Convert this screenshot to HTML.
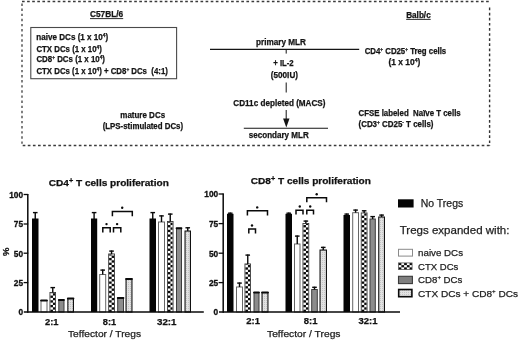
<!DOCTYPE html>
<html><head><meta charset="utf-8"><title>Figure</title>
<style>
html,body{margin:0;padding:0;background:#fff;}
body{width:520px;height:342px;overflow:hidden;}
text{white-space:pre;}
svg{display:block;filter:grayscale(1) blur(0.3px);font-family:"Liberation Sans", sans-serif;}
</style></head>
<body>
<svg width="520" height="342" viewBox="0 0 520 342">
<defs>
<pattern id="stp" patternUnits="userSpaceOnUse" width="2" height="2">
<rect width="2" height="2" fill="#e2e2e2"/>
<rect width="1" height="1" fill="#c4c4c4"/>
</pattern>
</defs>
<rect width="520" height="342" fill="#fff"/>
<g stroke="#333" stroke-width="1.1" fill="none">
<line x1="22" y1="1.5" x2="490.2" y2="1.5" stroke="#3a3a3a" stroke-width="1.3" stroke-dasharray="2.65 2.45"/>
<line x1="22.7" y1="145.5" x2="490.2" y2="145.5" stroke="#3a3a3a" stroke-width="1.3" stroke-dasharray="2.65 2.45"/>
<line x1="22" y1="3.5" x2="22" y2="146" stroke="#4a4a4a" stroke-width="1.4" stroke-dasharray="2.4 2.707"/>
<line x1="489.6" y1="7.6" x2="489.6" y2="146" stroke="#333" stroke-width="1.4" stroke-dasharray="2.7 2.408"/>
</g>
<rect x="30.8" y="27.5" width="145.8" height="51.2" fill="none" stroke="#4a4a4a" stroke-width="1.1"/>
<text x="90" y="16.9" font-size="8.4" font-weight="bold" text-anchor="start" fill="#141414" textLength="33.2" lengthAdjust="spacingAndGlyphs" stroke="#141414" stroke-width="0.25">C57BL/6</text>
<line x1="90" y1="18.6" x2="123.2" y2="18.6" stroke="#141414" stroke-width="0.9"/>
<text x="406.2" y="17.7" font-size="8.4" font-weight="bold" text-anchor="start" fill="#141414" textLength="24.5" lengthAdjust="spacingAndGlyphs" stroke="#141414" stroke-width="0.25">Balb/c</text>
<line x1="406.2" y1="19.4" x2="430.7" y2="19.4" stroke="#141414" stroke-width="0.9"/>
<text x="36.3" y="39.7" font-size="8.4" font-weight="bold" text-anchor="start" fill="#141414" textLength="71.9" lengthAdjust="spacingAndGlyphs" stroke="#141414" stroke-width="0.25">naive DCs (1 x 10<tspan font-size="5" dy="-3">4</tspan><tspan dy="3">)</tspan></text>
<text x="36.4" y="51.5" font-size="8.4" font-weight="bold" text-anchor="start" fill="#141414" textLength="65.4" lengthAdjust="spacingAndGlyphs" stroke="#141414" stroke-width="0.25">CTX DCs (1 x 10<tspan font-size="5" dy="-3">4</tspan><tspan dy="3">)</tspan></text>
<text x="36.4" y="61.8" font-size="8.4" font-weight="bold" text-anchor="start" fill="#141414" textLength="68.6" lengthAdjust="spacingAndGlyphs" stroke="#141414" stroke-width="0.25">CD8<tspan font-size="5" dy="-3">+</tspan><tspan dy="3"> DCs (1 x 10</tspan><tspan font-size="5" dy="-3">4</tspan><tspan dy="3">)</tspan></text>
<text x="36.4" y="73.5" font-size="8.4" font-weight="bold" text-anchor="start" fill="#141414" textLength="131.5" lengthAdjust="spacingAndGlyphs" stroke="#141414" stroke-width="0.25">CTX DCs (1 x 10<tspan font-size="5" dy="-3">4</tspan><tspan dy="3">) + CD8</tspan><tspan font-size="5" dy="-3">+</tspan><tspan dy="3"> DCs  (4:1)</tspan></text>
<text x="256" y="44.5" font-size="8.4" font-weight="bold" text-anchor="start" fill="#141414" textLength="50" lengthAdjust="spacingAndGlyphs" stroke="#141414" stroke-width="0.25">primary MLR</text>
<line x1="210" y1="49.4" x2="359.2" y2="49.4" stroke="#141414" stroke-width="1.2"/>
<line x1="286.2" y1="49.4" x2="286.2" y2="53.6" stroke="#141414" stroke-width="1"/>
<text x="273.2" y="65.8" font-size="8.4" font-weight="bold" text-anchor="start" fill="#141414" textLength="20.5" lengthAdjust="spacingAndGlyphs" stroke="#141414" stroke-width="0.25">+ IL-2</text>
<text x="270.8" y="77.5" font-size="8.4" font-weight="bold" text-anchor="start" fill="#141414" textLength="27.2" lengthAdjust="spacingAndGlyphs" stroke="#141414" stroke-width="0.25">(500IU)</text>
<line x1="286.2" y1="82.5" x2="286.2" y2="92.5" stroke="#141414" stroke-width="1"/>
<text x="233.3" y="105.5" font-size="8.4" font-weight="bold" text-anchor="start" fill="#141414" textLength="92.2" lengthAdjust="spacingAndGlyphs" stroke="#141414" stroke-width="0.25">CD11c depleted (MACS)</text>
<line x1="286.2" y1="110" x2="286.2" y2="120" stroke="#141414" stroke-width="1"/>
<polygon points="283.1,118.6 289.5,118.6 286.3,127.6" fill="#141414"/>
<line x1="243.8" y1="128.2" x2="328" y2="128.2" stroke="#141414" stroke-width="1.1"/>
<text x="248.8" y="137.5" font-size="8.4" font-weight="bold" text-anchor="start" fill="#141414" textLength="60" lengthAdjust="spacingAndGlyphs" stroke="#141414" stroke-width="0.25">secondary MLR</text>
<text x="364.7" y="53.9" font-size="8.4" font-weight="bold" text-anchor="start" fill="#141414" textLength="81.5" lengthAdjust="spacingAndGlyphs" stroke="#141414" stroke-width="0.25">CD4<tspan font-size="5" dy="-3">+</tspan><tspan dy="3"> CD25</tspan><tspan font-size="5" dy="-3">+</tspan><tspan dy="3"> Treg cells</tspan></text>
<text x="388.5" y="64.5" font-size="8.4" font-weight="bold" text-anchor="start" fill="#141414" textLength="31.8" lengthAdjust="spacingAndGlyphs" stroke="#141414" stroke-width="0.25">(1 x 10<tspan font-size="5" dy="-3">4</tspan><tspan dy="3">)</tspan></text>
<text x="358.5" y="115.8" font-size="8.4" font-weight="bold" text-anchor="start" fill="#141414" textLength="102.2" lengthAdjust="spacingAndGlyphs" stroke="#141414" stroke-width="0.25">CFSE labeled  Na&#239;ve T cells</text>
<text x="358.5" y="126.9" font-size="8.4" font-weight="bold" text-anchor="start" fill="#141414" textLength="75" lengthAdjust="spacingAndGlyphs" stroke="#141414" stroke-width="0.25">(CD3<tspan font-size="5" dy="-3">+</tspan><tspan dy="3"> CD25</tspan><tspan font-size="5" dy="-3">-</tspan><tspan dy="3"> T cells)</tspan></text>
<text x="120.3" y="117.6" font-size="8.4" font-weight="bold" text-anchor="start" fill="#141414" textLength="44.8" lengthAdjust="spacingAndGlyphs" stroke="#141414" stroke-width="0.25">mature DCs</text>
<text x="102.7" y="128.6" font-size="8.4" font-weight="bold" text-anchor="start" fill="#141414" textLength="80.4" lengthAdjust="spacingAndGlyphs" stroke="#141414" stroke-width="0.25">(LPS-stimulated DCs)</text>
<rect x="32" y="218.5" width="6.5" height="93.5" fill="#050505"/>
<line x1="35.25" y1="212" x2="35.25" y2="219" stroke="#0a0a0a" stroke-width="1.4"/>
<line x1="32.95" y1="212.6" x2="37.55" y2="212.6" stroke="#0a0a0a" stroke-width="1.4"/>
<rect x="41" y="300.5" width="6" height="11.5" fill="#fff" stroke="#666" stroke-width="1"/>
<line x1="41.1" y1="300.4" x2="46.9" y2="300.4" stroke="#0a0a0a" stroke-width="2" stroke-linecap="round"/>
<rect x="49.5" y="292" width="6.5" height="20" fill="#fff"/>
<g fill="#0a0a0a"><rect x="50.4" y="309.65" width="2.55" height="2.35"/><rect x="52.95" y="307.3" width="2.15" height="2.35"/><rect x="50.4" y="304.95" width="2.55" height="2.35"/><rect x="52.95" y="302.6" width="2.15" height="2.35"/><rect x="50.4" y="300.25" width="2.55" height="2.35"/><rect x="52.95" y="297.9" width="2.15" height="2.35"/><rect x="50.4" y="295.55" width="2.55" height="2.35"/><rect x="52.95" y="293.2" width="2.15" height="2.35"/><rect x="50.4" y="292.9" width="2.55" height="0.3"/></g>
<rect x="49.95" y="292.45" width="5.6" height="19.55" fill="none" stroke="#3a3a3a" stroke-width="0.9"/>
<line x1="52.75" y1="287" x2="52.75" y2="292.5" stroke="#0a0a0a" stroke-width="1.4"/>
<line x1="50.45" y1="287.6" x2="55.05" y2="287.6" stroke="#0a0a0a" stroke-width="1.4"/>
<rect x="58.8" y="300" width="5.2" height="12" fill="#8c8c8c" stroke="#3c3c3c" stroke-width="1"/>
<line x1="58.9" y1="299.9" x2="63.9" y2="299.9" stroke="#0a0a0a" stroke-width="2" stroke-linecap="round"/>
<rect x="67.85" y="298.55" width="5.6" height="13.45" fill="url(#stp)" stroke="#111" stroke-width="1.1"/>
<line x1="67.9" y1="298.4" x2="73.4" y2="298.4" stroke="#0a0a0a" stroke-width="2" stroke-linecap="round"/>
<rect x="91" y="218.5" width="6.2" height="93.5" fill="#050505"/>
<line x1="94.1" y1="212" x2="94.1" y2="219" stroke="#0a0a0a" stroke-width="1.4"/>
<line x1="91.8" y1="212.6" x2="96.4" y2="212.6" stroke="#0a0a0a" stroke-width="1.4"/>
<rect x="99.7" y="274.5" width="6" height="37.5" fill="#fff" stroke="#666" stroke-width="1"/>
<line x1="102.7" y1="269.5" x2="102.7" y2="274.5" stroke="#0a0a0a" stroke-width="1.4"/>
<line x1="100.4" y1="270.1" x2="105" y2="270.1" stroke="#0a0a0a" stroke-width="1.4"/>
<rect x="108.2" y="253.5" width="6.7" height="58.5" fill="#fff"/>
<g fill="#0a0a0a"><rect x="109.1" y="309.65" width="2.55" height="2.35"/><rect x="111.65" y="307.3" width="2.35" height="2.35"/><rect x="109.1" y="304.95" width="2.55" height="2.35"/><rect x="111.65" y="302.6" width="2.35" height="2.35"/><rect x="109.1" y="300.25" width="2.55" height="2.35"/><rect x="111.65" y="297.9" width="2.35" height="2.35"/><rect x="109.1" y="295.55" width="2.55" height="2.35"/><rect x="111.65" y="293.2" width="2.35" height="2.35"/><rect x="109.1" y="290.85" width="2.55" height="2.35"/><rect x="111.65" y="288.5" width="2.35" height="2.35"/><rect x="109.1" y="286.15" width="2.55" height="2.35"/><rect x="111.65" y="283.8" width="2.35" height="2.35"/><rect x="109.1" y="281.45" width="2.55" height="2.35"/><rect x="111.65" y="279.1" width="2.35" height="2.35"/><rect x="109.1" y="276.75" width="2.55" height="2.35"/><rect x="111.65" y="274.4" width="2.35" height="2.35"/><rect x="109.1" y="272.05" width="2.55" height="2.35"/><rect x="111.65" y="269.7" width="2.35" height="2.35"/><rect x="109.1" y="267.35" width="2.55" height="2.35"/><rect x="111.65" y="265" width="2.35" height="2.35"/><rect x="109.1" y="262.65" width="2.55" height="2.35"/><rect x="111.65" y="260.3" width="2.35" height="2.35"/><rect x="109.1" y="257.95" width="2.55" height="2.35"/><rect x="111.65" y="255.6" width="2.35" height="2.35"/><rect x="109.1" y="254.4" width="2.55" height="1.2"/></g>
<rect x="108.65" y="253.95" width="5.8" height="58.05" fill="none" stroke="#3a3a3a" stroke-width="0.9"/>
<line x1="111.55" y1="250.5" x2="111.55" y2="254" stroke="#0a0a0a" stroke-width="1.4"/>
<line x1="109.25" y1="251.1" x2="113.85" y2="251.1" stroke="#0a0a0a" stroke-width="1.4"/>
<rect x="117.7" y="298" width="5.8" height="14" fill="#8c8c8c" stroke="#3c3c3c" stroke-width="1"/>
<line x1="117.8" y1="297.9" x2="123.4" y2="297.9" stroke="#0a0a0a" stroke-width="2" stroke-linecap="round"/>
<rect x="126.05" y="279.05" width="5.9" height="32.95" fill="url(#stp)" stroke="#111" stroke-width="1.1"/>
<line x1="126.1" y1="278.9" x2="131.9" y2="278.9" stroke="#0a0a0a" stroke-width="2" stroke-linecap="round"/>
<rect x="149.5" y="218.5" width="6.5" height="93.5" fill="#050505"/>
<line x1="152.75" y1="212" x2="152.75" y2="219" stroke="#0a0a0a" stroke-width="1.4"/>
<line x1="150.45" y1="212.6" x2="155.05" y2="212.6" stroke="#0a0a0a" stroke-width="1.4"/>
<rect x="158.5" y="222" width="6" height="90" fill="#fff" stroke="#666" stroke-width="1"/>
<line x1="161.5" y1="215.3" x2="161.5" y2="222" stroke="#0a0a0a" stroke-width="1.4"/>
<line x1="159.2" y1="215.9" x2="163.8" y2="215.9" stroke="#0a0a0a" stroke-width="1.4"/>
<rect x="167" y="221" width="6.5" height="91" fill="#fff"/>
<g fill="#0a0a0a"><rect x="167.9" y="309.65" width="2.55" height="2.35"/><rect x="170.45" y="307.3" width="2.15" height="2.35"/><rect x="167.9" y="304.95" width="2.55" height="2.35"/><rect x="170.45" y="302.6" width="2.15" height="2.35"/><rect x="167.9" y="300.25" width="2.55" height="2.35"/><rect x="170.45" y="297.9" width="2.15" height="2.35"/><rect x="167.9" y="295.55" width="2.55" height="2.35"/><rect x="170.45" y="293.2" width="2.15" height="2.35"/><rect x="167.9" y="290.85" width="2.55" height="2.35"/><rect x="170.45" y="288.5" width="2.15" height="2.35"/><rect x="167.9" y="286.15" width="2.55" height="2.35"/><rect x="170.45" y="283.8" width="2.15" height="2.35"/><rect x="167.9" y="281.45" width="2.55" height="2.35"/><rect x="170.45" y="279.1" width="2.15" height="2.35"/><rect x="167.9" y="276.75" width="2.55" height="2.35"/><rect x="170.45" y="274.4" width="2.15" height="2.35"/><rect x="167.9" y="272.05" width="2.55" height="2.35"/><rect x="170.45" y="269.7" width="2.15" height="2.35"/><rect x="167.9" y="267.35" width="2.55" height="2.35"/><rect x="170.45" y="265" width="2.15" height="2.35"/><rect x="167.9" y="262.65" width="2.55" height="2.35"/><rect x="170.45" y="260.3" width="2.15" height="2.35"/><rect x="167.9" y="257.95" width="2.55" height="2.35"/><rect x="170.45" y="255.6" width="2.15" height="2.35"/><rect x="167.9" y="253.25" width="2.55" height="2.35"/><rect x="170.45" y="250.9" width="2.15" height="2.35"/><rect x="167.9" y="248.55" width="2.55" height="2.35"/><rect x="170.45" y="246.2" width="2.15" height="2.35"/><rect x="167.9" y="243.85" width="2.55" height="2.35"/><rect x="170.45" y="241.5" width="2.15" height="2.35"/><rect x="167.9" y="239.15" width="2.55" height="2.35"/><rect x="170.45" y="236.8" width="2.15" height="2.35"/><rect x="167.9" y="234.45" width="2.55" height="2.35"/><rect x="170.45" y="232.1" width="2.15" height="2.35"/><rect x="167.9" y="229.75" width="2.55" height="2.35"/><rect x="170.45" y="227.4" width="2.15" height="2.35"/><rect x="167.9" y="225.05" width="2.55" height="2.35"/><rect x="170.45" y="222.7" width="2.15" height="2.35"/><rect x="167.9" y="221.9" width="2.55" height="0.8"/></g>
<rect x="167.45" y="221.45" width="5.6" height="90.55" fill="none" stroke="#3a3a3a" stroke-width="0.9"/>
<line x1="170.25" y1="213.5" x2="170.25" y2="221.5" stroke="#0a0a0a" stroke-width="1.4"/>
<line x1="167.95" y1="214.1" x2="172.55" y2="214.1" stroke="#0a0a0a" stroke-width="1.4"/>
<rect x="176.5" y="228.3" width="5" height="83.7" fill="#8c8c8c" stroke="#3c3c3c" stroke-width="1"/>
<line x1="176.6" y1="228.2" x2="181.4" y2="228.2" stroke="#0a0a0a" stroke-width="2" stroke-linecap="round"/>
<rect x="185.05" y="231.05" width="5.4" height="80.95" fill="url(#stp)" stroke="#111" stroke-width="1.1"/>
<line x1="187.75" y1="227.2" x2="187.75" y2="231" stroke="#0a0a0a" stroke-width="1.4"/>
<line x1="185.45" y1="227.8" x2="190.05" y2="227.8" stroke="#0a0a0a" stroke-width="1.4"/>
<rect x="227" y="213.8" width="6.5" height="98.2" fill="#050505"/>
<line x1="230.25" y1="212.6" x2="230.25" y2="214.3" stroke="#0a0a0a" stroke-width="1.4"/>
<line x1="227.95" y1="213.2" x2="232.55" y2="213.2" stroke="#0a0a0a" stroke-width="1.4"/>
<rect x="236.5" y="287" width="6" height="25" fill="#fff" stroke="#666" stroke-width="1"/>
<line x1="239.5" y1="282.5" x2="239.5" y2="287" stroke="#0a0a0a" stroke-width="1.4"/>
<line x1="237.2" y1="283.1" x2="241.8" y2="283.1" stroke="#0a0a0a" stroke-width="1.4"/>
<rect x="244.5" y="263.5" width="6.5" height="48.5" fill="#fff"/>
<g fill="#0a0a0a"><rect x="245.4" y="309.65" width="2.55" height="2.35"/><rect x="247.95" y="307.3" width="2.15" height="2.35"/><rect x="245.4" y="304.95" width="2.55" height="2.35"/><rect x="247.95" y="302.6" width="2.15" height="2.35"/><rect x="245.4" y="300.25" width="2.55" height="2.35"/><rect x="247.95" y="297.9" width="2.15" height="2.35"/><rect x="245.4" y="295.55" width="2.55" height="2.35"/><rect x="247.95" y="293.2" width="2.15" height="2.35"/><rect x="245.4" y="290.85" width="2.55" height="2.35"/><rect x="247.95" y="288.5" width="2.15" height="2.35"/><rect x="245.4" y="286.15" width="2.55" height="2.35"/><rect x="247.95" y="283.8" width="2.15" height="2.35"/><rect x="245.4" y="281.45" width="2.55" height="2.35"/><rect x="247.95" y="279.1" width="2.15" height="2.35"/><rect x="245.4" y="276.75" width="2.55" height="2.35"/><rect x="247.95" y="274.4" width="2.15" height="2.35"/><rect x="245.4" y="272.05" width="2.55" height="2.35"/><rect x="247.95" y="269.7" width="2.15" height="2.35"/><rect x="245.4" y="267.35" width="2.55" height="2.35"/><rect x="247.95" y="265" width="2.15" height="2.35"/><rect x="245.4" y="264.4" width="2.55" height="0.6"/></g>
<rect x="244.95" y="263.95" width="5.6" height="48.05" fill="none" stroke="#3a3a3a" stroke-width="0.9"/>
<line x1="247.75" y1="254.5" x2="247.75" y2="264" stroke="#0a0a0a" stroke-width="1.4"/>
<line x1="245.45" y1="255.1" x2="250.05" y2="255.1" stroke="#0a0a0a" stroke-width="1.4"/>
<rect x="254" y="292.5" width="5" height="19.5" fill="#8c8c8c" stroke="#3c3c3c" stroke-width="1"/>
<line x1="254.1" y1="292.4" x2="258.9" y2="292.4" stroke="#0a0a0a" stroke-width="2" stroke-linecap="round"/>
<rect x="262.05" y="292.55" width="5.9" height="19.45" fill="url(#stp)" stroke="#111" stroke-width="1.1"/>
<line x1="262.1" y1="292.4" x2="267.9" y2="292.4" stroke="#0a0a0a" stroke-width="2" stroke-linecap="round"/>
<rect x="285.5" y="213.8" width="6.5" height="98.2" fill="#050505"/>
<line x1="288.75" y1="212.6" x2="288.75" y2="214.3" stroke="#0a0a0a" stroke-width="1.4"/>
<line x1="286.45" y1="213.2" x2="291.05" y2="213.2" stroke="#0a0a0a" stroke-width="1.4"/>
<rect x="294.5" y="244" width="5.5" height="68" fill="#fff" stroke="#666" stroke-width="1"/>
<line x1="297.25" y1="235.5" x2="297.25" y2="244" stroke="#0a0a0a" stroke-width="1.4"/>
<line x1="294.95" y1="236.1" x2="299.55" y2="236.1" stroke="#0a0a0a" stroke-width="1.4"/>
<rect x="302.5" y="223" width="6.7" height="89" fill="#fff"/>
<g fill="#0a0a0a"><rect x="303.4" y="309.65" width="2.55" height="2.35"/><rect x="305.95" y="307.3" width="2.35" height="2.35"/><rect x="303.4" y="304.95" width="2.55" height="2.35"/><rect x="305.95" y="302.6" width="2.35" height="2.35"/><rect x="303.4" y="300.25" width="2.55" height="2.35"/><rect x="305.95" y="297.9" width="2.35" height="2.35"/><rect x="303.4" y="295.55" width="2.55" height="2.35"/><rect x="305.95" y="293.2" width="2.35" height="2.35"/><rect x="303.4" y="290.85" width="2.55" height="2.35"/><rect x="305.95" y="288.5" width="2.35" height="2.35"/><rect x="303.4" y="286.15" width="2.55" height="2.35"/><rect x="305.95" y="283.8" width="2.35" height="2.35"/><rect x="303.4" y="281.45" width="2.55" height="2.35"/><rect x="305.95" y="279.1" width="2.35" height="2.35"/><rect x="303.4" y="276.75" width="2.55" height="2.35"/><rect x="305.95" y="274.4" width="2.35" height="2.35"/><rect x="303.4" y="272.05" width="2.55" height="2.35"/><rect x="305.95" y="269.7" width="2.35" height="2.35"/><rect x="303.4" y="267.35" width="2.55" height="2.35"/><rect x="305.95" y="265" width="2.35" height="2.35"/><rect x="303.4" y="262.65" width="2.55" height="2.35"/><rect x="305.95" y="260.3" width="2.35" height="2.35"/><rect x="303.4" y="257.95" width="2.55" height="2.35"/><rect x="305.95" y="255.6" width="2.35" height="2.35"/><rect x="303.4" y="253.25" width="2.55" height="2.35"/><rect x="305.95" y="250.9" width="2.35" height="2.35"/><rect x="303.4" y="248.55" width="2.55" height="2.35"/><rect x="305.95" y="246.2" width="2.35" height="2.35"/><rect x="303.4" y="243.85" width="2.55" height="2.35"/><rect x="305.95" y="241.5" width="2.35" height="2.35"/><rect x="303.4" y="239.15" width="2.55" height="2.35"/><rect x="305.95" y="236.8" width="2.35" height="2.35"/><rect x="303.4" y="234.45" width="2.55" height="2.35"/><rect x="305.95" y="232.1" width="2.35" height="2.35"/><rect x="303.4" y="229.75" width="2.55" height="2.35"/><rect x="305.95" y="227.4" width="2.35" height="2.35"/><rect x="303.4" y="225.05" width="2.55" height="2.35"/><rect x="305.95" y="223.9" width="2.35" height="1.15"/></g>
<rect x="302.95" y="223.45" width="5.8" height="88.55" fill="none" stroke="#3a3a3a" stroke-width="0.9"/>
<line x1="305.85" y1="220.5" x2="305.85" y2="223.5" stroke="#0a0a0a" stroke-width="1.4"/>
<line x1="303.55" y1="221.1" x2="308.15" y2="221.1" stroke="#0a0a0a" stroke-width="1.4"/>
<rect x="311.7" y="289.5" width="5.6" height="22.5" fill="#8c8c8c" stroke="#3c3c3c" stroke-width="1"/>
<line x1="314.5" y1="286.7" x2="314.5" y2="289.5" stroke="#0a0a0a" stroke-width="1.4"/>
<line x1="312.2" y1="287.3" x2="316.8" y2="287.3" stroke="#0a0a0a" stroke-width="1.4"/>
<rect x="320.05" y="250.05" width="6.4" height="61.95" fill="url(#stp)" stroke="#111" stroke-width="1.1"/>
<line x1="323.25" y1="246.8" x2="323.25" y2="250" stroke="#0a0a0a" stroke-width="1.4"/>
<line x1="320.95" y1="247.4" x2="325.55" y2="247.4" stroke="#0a0a0a" stroke-width="1.4"/>
<rect x="343.5" y="215" width="6.5" height="97" fill="#050505"/>
<line x1="346.75" y1="213.5" x2="346.75" y2="215.5" stroke="#0a0a0a" stroke-width="1.4"/>
<line x1="344.45" y1="214.1" x2="349.05" y2="214.1" stroke="#0a0a0a" stroke-width="1.4"/>
<rect x="352.7" y="212.7" width="5.8" height="99.3" fill="#fff" stroke="#666" stroke-width="1"/>
<line x1="355.6" y1="209.5" x2="355.6" y2="212.7" stroke="#0a0a0a" stroke-width="1.4"/>
<line x1="353.3" y1="210.1" x2="357.9" y2="210.1" stroke="#0a0a0a" stroke-width="1.4"/>
<rect x="360.8" y="212.5" width="6.7" height="99.5" fill="#fff"/>
<g fill="#0a0a0a"><rect x="361.7" y="309.65" width="2.55" height="2.35"/><rect x="364.25" y="307.3" width="2.35" height="2.35"/><rect x="361.7" y="304.95" width="2.55" height="2.35"/><rect x="364.25" y="302.6" width="2.35" height="2.35"/><rect x="361.7" y="300.25" width="2.55" height="2.35"/><rect x="364.25" y="297.9" width="2.35" height="2.35"/><rect x="361.7" y="295.55" width="2.55" height="2.35"/><rect x="364.25" y="293.2" width="2.35" height="2.35"/><rect x="361.7" y="290.85" width="2.55" height="2.35"/><rect x="364.25" y="288.5" width="2.35" height="2.35"/><rect x="361.7" y="286.15" width="2.55" height="2.35"/><rect x="364.25" y="283.8" width="2.35" height="2.35"/><rect x="361.7" y="281.45" width="2.55" height="2.35"/><rect x="364.25" y="279.1" width="2.35" height="2.35"/><rect x="361.7" y="276.75" width="2.55" height="2.35"/><rect x="364.25" y="274.4" width="2.35" height="2.35"/><rect x="361.7" y="272.05" width="2.55" height="2.35"/><rect x="364.25" y="269.7" width="2.35" height="2.35"/><rect x="361.7" y="267.35" width="2.55" height="2.35"/><rect x="364.25" y="265" width="2.35" height="2.35"/><rect x="361.7" y="262.65" width="2.55" height="2.35"/><rect x="364.25" y="260.3" width="2.35" height="2.35"/><rect x="361.7" y="257.95" width="2.55" height="2.35"/><rect x="364.25" y="255.6" width="2.35" height="2.35"/><rect x="361.7" y="253.25" width="2.55" height="2.35"/><rect x="364.25" y="250.9" width="2.35" height="2.35"/><rect x="361.7" y="248.55" width="2.55" height="2.35"/><rect x="364.25" y="246.2" width="2.35" height="2.35"/><rect x="361.7" y="243.85" width="2.55" height="2.35"/><rect x="364.25" y="241.5" width="2.35" height="2.35"/><rect x="361.7" y="239.15" width="2.55" height="2.35"/><rect x="364.25" y="236.8" width="2.35" height="2.35"/><rect x="361.7" y="234.45" width="2.55" height="2.35"/><rect x="364.25" y="232.1" width="2.35" height="2.35"/><rect x="361.7" y="229.75" width="2.55" height="2.35"/><rect x="364.25" y="227.4" width="2.35" height="2.35"/><rect x="361.7" y="225.05" width="2.55" height="2.35"/><rect x="364.25" y="222.7" width="2.35" height="2.35"/><rect x="361.7" y="220.35" width="2.55" height="2.35"/><rect x="364.25" y="218" width="2.35" height="2.35"/><rect x="361.7" y="215.65" width="2.55" height="2.35"/><rect x="364.25" y="213.4" width="2.35" height="2.25"/></g>
<rect x="361.25" y="212.95" width="5.8" height="99.05" fill="none" stroke="#3a3a3a" stroke-width="0.9"/>
<line x1="364.15" y1="210.2" x2="364.15" y2="213" stroke="#0a0a0a" stroke-width="1.4"/>
<line x1="361.85" y1="210.8" x2="366.45" y2="210.8" stroke="#0a0a0a" stroke-width="1.4"/>
<rect x="370" y="219" width="5.3" height="93" fill="#8c8c8c" stroke="#3c3c3c" stroke-width="1"/>
<line x1="372.65" y1="216" x2="372.65" y2="219" stroke="#0a0a0a" stroke-width="1.4"/>
<line x1="370.35" y1="216.6" x2="374.95" y2="216.6" stroke="#0a0a0a" stroke-width="1.4"/>
<rect x="378.75" y="217.05" width="5.7" height="94.95" fill="url(#stp)" stroke="#111" stroke-width="1.1"/>
<line x1="381.6" y1="214.5" x2="381.6" y2="217" stroke="#0a0a0a" stroke-width="1.4"/>
<line x1="379.3" y1="215.1" x2="383.9" y2="215.1" stroke="#0a0a0a" stroke-width="1.4"/>
<line x1="27.8" y1="194" x2="27.8" y2="312.8" stroke="#0a0a0a" stroke-width="1.5"/>
<line x1="23.8" y1="312" x2="203.8" y2="312" stroke="#0a0a0a" stroke-width="1.6"/>
<line x1="23.6" y1="194.5" x2="28.2" y2="194.5" stroke="#0a0a0a" stroke-width="1.3"/>
<line x1="23.6" y1="224" x2="28.2" y2="224" stroke="#0a0a0a" stroke-width="1.3"/>
<line x1="23.6" y1="253.2" x2="28.2" y2="253.2" stroke="#0a0a0a" stroke-width="1.3"/>
<line x1="23.6" y1="282.6" x2="28.2" y2="282.6" stroke="#0a0a0a" stroke-width="1.3"/>
<line x1="223.2" y1="193.5" x2="223.2" y2="312.8" stroke="#0a0a0a" stroke-width="1.5"/>
<line x1="219" y1="312" x2="400" y2="312" stroke="#0a0a0a" stroke-width="1.6"/>
<line x1="218.6" y1="194" x2="223.6" y2="194" stroke="#0a0a0a" stroke-width="1.3"/>
<line x1="218.6" y1="223.6" x2="223.6" y2="223.6" stroke="#0a0a0a" stroke-width="1.3"/>
<line x1="218.6" y1="253.2" x2="223.6" y2="253.2" stroke="#0a0a0a" stroke-width="1.3"/>
<line x1="218.6" y1="282.6" x2="223.6" y2="282.6" stroke="#0a0a0a" stroke-width="1.3"/>
<text x="23.1" y="197.6" font-size="8.3" font-weight="bold" text-anchor="end" fill="#111" stroke="#111" stroke-width="0.3">100</text>
<text x="23.1" y="227.3" font-size="8.3" font-weight="bold" text-anchor="end" fill="#111" stroke="#111" stroke-width="0.3">75</text>
<text x="23.1" y="256.5" font-size="8.3" font-weight="bold" text-anchor="end" fill="#111" stroke="#111" stroke-width="0.3">50</text>
<text x="23.1" y="285.9" font-size="8.3" font-weight="bold" text-anchor="end" fill="#111" stroke="#111" stroke-width="0.3">25</text>
<text x="23.1" y="315.3" font-size="8.3" font-weight="bold" text-anchor="end" fill="#111" stroke="#111" stroke-width="0.3">0</text>
<text x="218.2" y="197.3" font-size="8.3" font-weight="bold" text-anchor="end" fill="#111" stroke="#111" stroke-width="0.3">100</text>
<text x="218.2" y="227" font-size="8.3" font-weight="bold" text-anchor="end" fill="#111" stroke="#111" stroke-width="0.3">75</text>
<text x="218.2" y="256.5" font-size="8.3" font-weight="bold" text-anchor="end" fill="#111" stroke="#111" stroke-width="0.3">50</text>
<text x="218.2" y="285.9" font-size="8.3" font-weight="bold" text-anchor="end" fill="#111" stroke="#111" stroke-width="0.3">25</text>
<text x="218.2" y="315.3" font-size="8.3" font-weight="bold" text-anchor="end" fill="#111" stroke="#111" stroke-width="0.3">0</text>
<text x="0" y="0" font-size="9.5" font-weight="bold" fill="#111" stroke="#111" stroke-width="0.25" text-anchor="middle" transform="translate(8.9,251.9) rotate(-90)">%</text>
<text x="48.8" y="185.9" font-size="9" font-weight="bold" text-anchor="start" fill="#111" textLength="120" lengthAdjust="spacingAndGlyphs" stroke="#111" stroke-width="0.25">CD4<tspan font-size="6.5" dy="-3.3">+</tspan><tspan dy="3.3"> T cells proliferation</tspan></text>
<text x="250.8" y="183.8" font-size="9" font-weight="bold" text-anchor="start" fill="#111" textLength="120.1" lengthAdjust="spacingAndGlyphs" stroke="#111" stroke-width="0.25">CD8<tspan font-size="6.5" dy="-3.3">+</tspan><tspan dy="3.3"> T cells proliferation</tspan></text>
<text x="45" y="325" font-size="9" font-weight="bold" text-anchor="start" fill="#111" textLength="13.5" lengthAdjust="spacingAndGlyphs" stroke="#111" stroke-width="0.25">2:1</text>
<text x="102.8" y="325" font-size="9" font-weight="bold" text-anchor="start" fill="#111" textLength="13.4" lengthAdjust="spacingAndGlyphs" stroke="#111" stroke-width="0.25">8:1</text>
<text x="157" y="325" font-size="9" font-weight="bold" text-anchor="start" fill="#111" textLength="19.5" lengthAdjust="spacingAndGlyphs" stroke="#111" stroke-width="0.25">32:1</text>
<text x="246.3" y="324.3" font-size="9" font-weight="bold" text-anchor="start" fill="#111" textLength="13.7" lengthAdjust="spacingAndGlyphs" stroke="#111" stroke-width="0.25">2:1</text>
<text x="303.8" y="324.3" font-size="9" font-weight="bold" text-anchor="start" fill="#111" textLength="13.7" lengthAdjust="spacingAndGlyphs" stroke="#111" stroke-width="0.25">8:1</text>
<text x="358.5" y="324.2" font-size="9" font-weight="bold" text-anchor="start" fill="#111" textLength="19" lengthAdjust="spacingAndGlyphs" stroke="#111" stroke-width="0.25">32:1</text>
<text x="68" y="337.2" font-size="9.7" font-weight="normal" text-anchor="start" fill="#222" textLength="73" lengthAdjust="spacingAndGlyphs" stroke="#222" stroke-width="0.25">Teffector / Tregs</text>
<text x="267" y="337.2" font-size="9.7" font-weight="normal" text-anchor="start" fill="#222" textLength="73.5" lengthAdjust="spacingAndGlyphs" stroke="#222" stroke-width="0.25">Teffector / Tregs</text>
<polyline points="112.4,216.2 112.4,211.4 132.3,211.4 132.3,216.2" fill="none" stroke="#0a0a0a" stroke-width="1.5" stroke-linejoin="miter"/>
<circle cx="122.2" cy="207.8" r="1.2" fill="#0a0a0a"/>
<polyline points="102.8,232.4 102.8,227.8 110.2,227.8 110.2,232.4" fill="none" stroke="#0a0a0a" stroke-width="1.5" stroke-linejoin="miter"/>
<circle cx="106.5" cy="224.1" r="1.2" fill="#0a0a0a"/>
<polyline points="113.5,232.4 113.5,227.8 120.8,227.8 120.8,232.4" fill="none" stroke="#0a0a0a" stroke-width="1.5" stroke-linejoin="miter"/>
<circle cx="117.1" cy="224.1" r="1.2" fill="#0a0a0a"/>
<polyline points="247.4,215.5 247.4,210.7 267.5,210.7 267.5,215.5" fill="none" stroke="#0a0a0a" stroke-width="1.5" stroke-linejoin="miter"/>
<circle cx="257.2" cy="207.4" r="1.2" fill="#0a0a0a"/>
<polyline points="248.8,233.6 248.8,229 255.5,229 255.5,233.6" fill="none" stroke="#0a0a0a" stroke-width="1.5" stroke-linejoin="miter"/>
<circle cx="252" cy="225.5" r="1.2" fill="#0a0a0a"/>
<polyline points="306.8,202.2 306.8,197.8 326.5,197.8 326.5,202.2" fill="none" stroke="#0a0a0a" stroke-width="1.5" stroke-linejoin="miter"/>
<circle cx="316.7" cy="194.2" r="1.2" fill="#0a0a0a"/>
<polyline points="296,214.5 296,210.3 303,210.3 303,214.5" fill="none" stroke="#0a0a0a" stroke-width="1.5" stroke-linejoin="miter"/>
<circle cx="299.8" cy="206.5" r="1.2" fill="#0a0a0a"/>
<polyline points="306.8,214.5 306.8,210.3 313.5,210.3 313.5,214.5" fill="none" stroke="#0a0a0a" stroke-width="1.5" stroke-linejoin="miter"/>
<circle cx="310.2" cy="206.5" r="1.2" fill="#0a0a0a"/>
<rect x="398" y="199.3" width="15.6" height="8.2" fill="#050505"/>
<text x="420.8" y="206.9" font-size="10.4" font-weight="normal" text-anchor="start" fill="#1e1e1e" textLength="42.4" lengthAdjust="spacingAndGlyphs" stroke="#1e1e1e" stroke-width="0.25">No Tregs</text>
<text x="399.7" y="234" font-size="11.4" font-weight="normal" text-anchor="start" fill="#1e1e1e" textLength="109.8" lengthAdjust="spacingAndGlyphs" stroke="#1e1e1e" stroke-width="0.25">Tregs expanded with:</text>
<rect x="398.5" y="249.3" width="14" height="6.8" fill="#fff" stroke="#8a8a8a" stroke-width="1"/>
<text x="418.1" y="255.8" font-size="9.7" font-weight="normal" text-anchor="start" fill="#1e1e1e" textLength="44.9" lengthAdjust="spacingAndGlyphs" stroke="#1e1e1e" stroke-width="0.25">naive DCs</text>
<rect x="398" y="262.5" width="14.5" height="7.4" fill="#fff"/>
<g fill="#0a0a0a"><rect x="398.6" y="267.35" width="2.75" height="2.25"/><rect x="404.1" y="267.35" width="2.75" height="2.25"/><rect x="409.6" y="267.35" width="2.4" height="2.25"/><rect x="401.35" y="265.1" width="2.75" height="2.25"/><rect x="406.85" y="265.1" width="2.75" height="2.25"/><rect x="398.6" y="263" width="2.75" height="2.1"/><rect x="404.1" y="263" width="2.75" height="2.1"/><rect x="409.6" y="263" width="2.4" height="2.1"/></g>
<rect x="398.4" y="262.9" width="13.7" height="6.6" fill="none" stroke="#555" stroke-width="0.8"/>
<text x="418.1" y="269.6" font-size="9.7" font-weight="normal" text-anchor="start" fill="#1e1e1e" textLength="40.2" lengthAdjust="spacingAndGlyphs" stroke="#1e1e1e" stroke-width="0.25">CTX DCs</text>
<rect x="398.5" y="276.3" width="13.9" height="7.3" fill="#7f7f7f" stroke="#3a3a3a" stroke-width="1.1"/>
<text x="418.1" y="282.8" font-size="9.7" font-weight="normal" text-anchor="start" fill="#1e1e1e" textLength="44.2" lengthAdjust="spacingAndGlyphs" stroke="#1e1e1e" stroke-width="0.25">CD8<tspan font-size="6" dy="-3.6">+</tspan><tspan dy="3.6"> DCs</tspan></text>
<rect x="398.7" y="289.5" width="13.2" height="7.2" fill="url(#stp)" stroke="#0a0a0a" stroke-width="1.6"/>
<text x="418.1" y="296.6" font-size="9.7" font-weight="normal" text-anchor="start" fill="#1e1e1e" textLength="99.9" lengthAdjust="spacingAndGlyphs" stroke="#1e1e1e" stroke-width="0.25">CTX DCs + CD8<tspan font-size="6" dy="-3.6">+</tspan><tspan dy="3.6"> DCs</tspan></text>
</svg>
</body></html>
